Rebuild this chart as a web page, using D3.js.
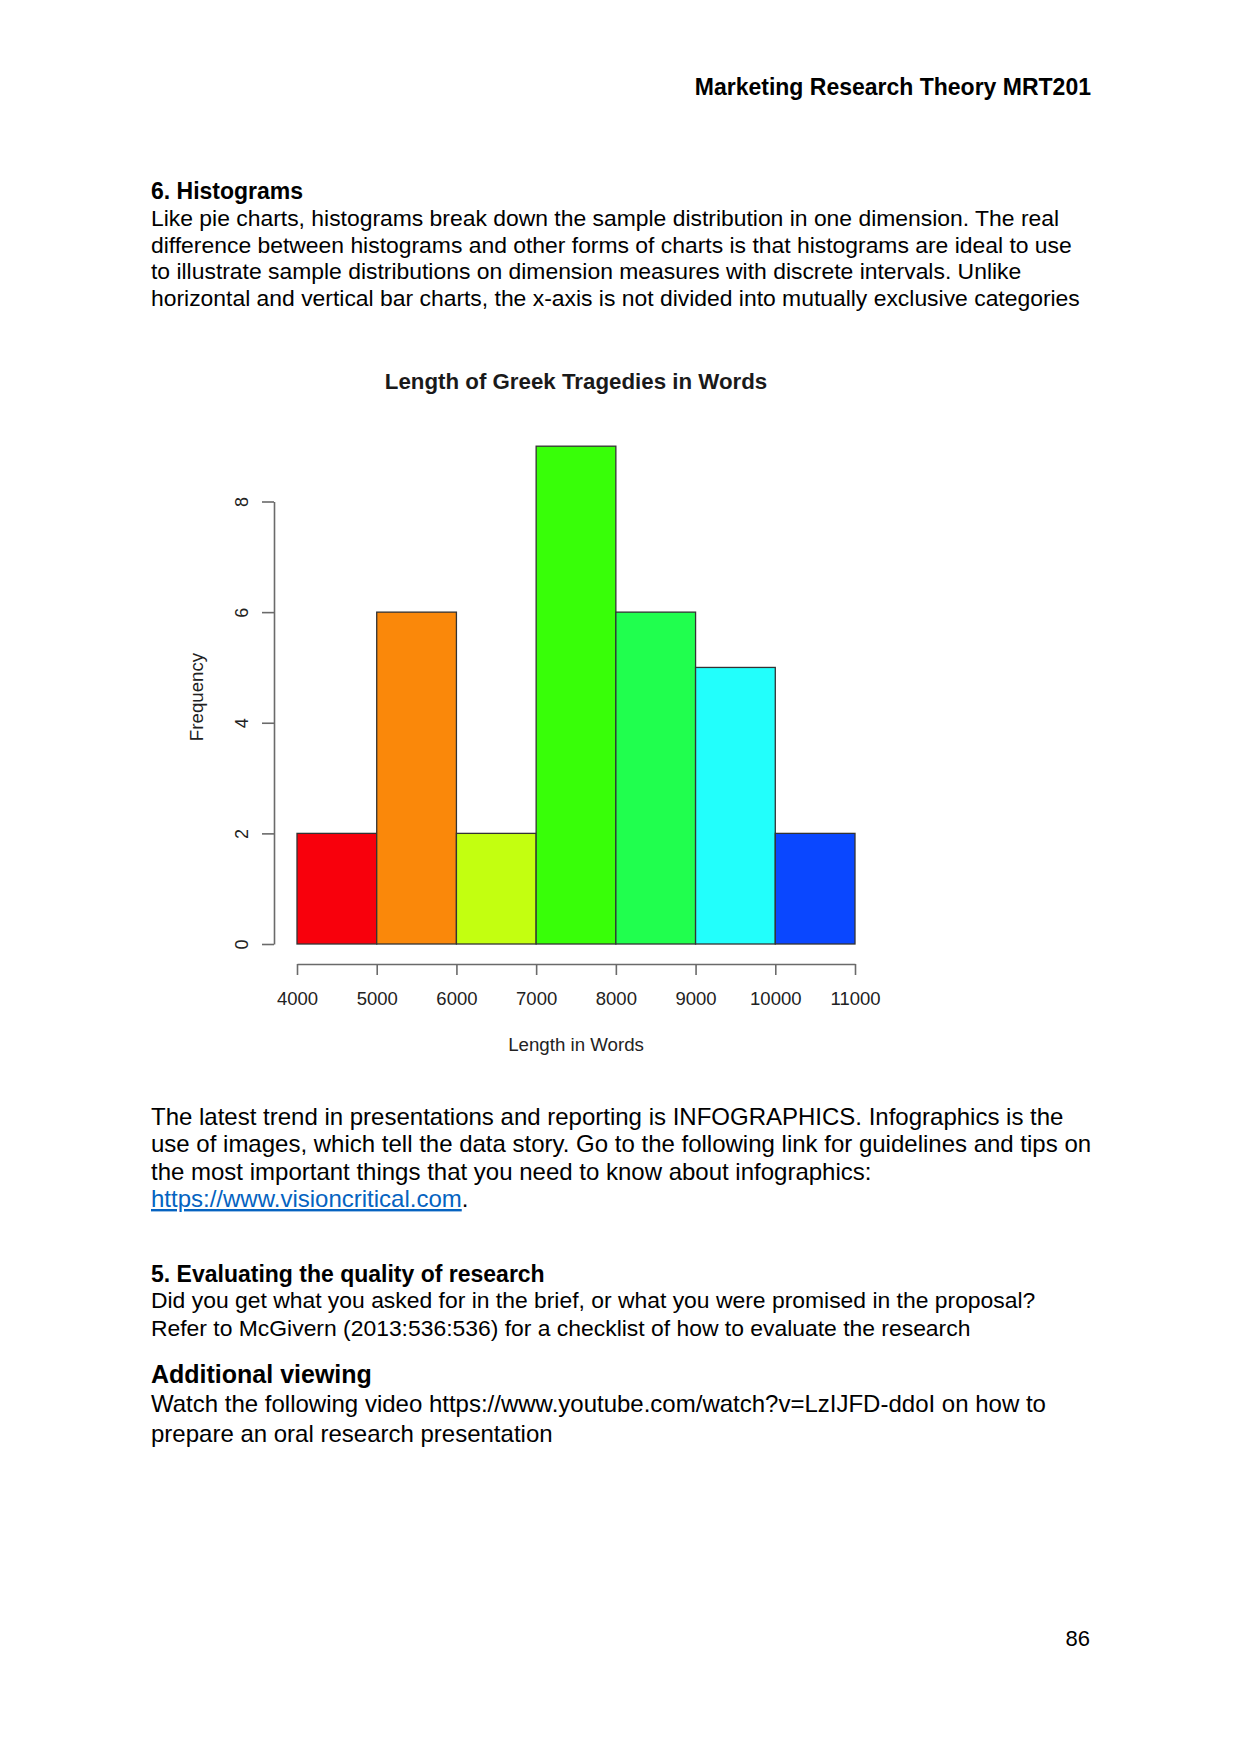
<!DOCTYPE html>
<html>
<head>
<meta charset="utf-8">
<script src="https://cdn.jsdelivr.net/npm/d3@7"></script>
<style>
  html, body { margin: 0; padding: 0; background: #fff; }
  svg text { font-family: "Liberation Sans", Arial, sans-serif; }
</style>
</head>
<body>
<svg id="page" width="1241" height="1754"></svg>
<script>
// histogram data
const binEdges = [4000, 5000, 6000, 7000, 8000, 9000, 10000, 11000];
const counts = [2, 6, 2, 9, 6, 5, 2];
const barColors = ["#F8000C", "#FA880A", "#C3FF10", "#38FF08", "#20FF4E", "#22FFFC", "#0A47FF"];
const yTicks = [0, 2, 4, 6, 8];
const xTicks = binEdges;

const chartTitle = "Length of Greek Tragedies in Words";
const xLabel = "Length in Words";
const yLabel = "Frequency";

// page text
const introLines = [
  "Like pie charts, histograms break down the sample distribution in one dimension. The real",
  "difference between histograms and other forms of charts is that histograms are ideal to use",
  "to illustrate sample distributions on dimension measures with discrete intervals. Unlike",
  "horizontal and vertical bar charts, the x-axis is not divided into mutually exclusive categories"
];
const trendLines = [
  "The latest trend in presentations and reporting is INFOGRAPHICS. Infographics is the",
  "use of images, which tell the data story. Go to the following link for guidelines and tips on",
  "the most important things that you need to know about infographics:"
];
const qualityLines = [
  "Did you get what you asked for in the brief, or what you were promised in the proposal?",
  "Refer to McGivern (2013:536:536) for a checklist of how to evaluate the research"
];
const viewingLines = [
  "Watch the following video https://www.youtube.com/watch?v=LzIJFD-ddoI on how to",
  "prepare an oral research presentation"
];

const svg = d3.select("#page");
svg.append("rect").attr("width", 1241).attr("height", 1754).attr("fill", "#fff");

const left = 151;
const addLine = (txt, y, size, weight) =>
  svg.append("text").attr("x", left).attr("y", y)
    .attr("font-size", size).attr("font-weight", weight || "normal")
    .attr("fill", "#000").text(txt);

// header
svg.append("text").attr("x", 1091).attr("y", 95).attr("text-anchor", "end")
  .attr("font-size", 23).attr("font-weight", "bold").text("Marketing Research Theory MRT201");

addLine("6. Histograms", 199, 23, "bold");
introLines.forEach((l, i) => addLine(l, 226 + i * 26.5, 22.9));

// ---- chart ----
const x = d3.scaleLinear().domain([4000, 11000]).range([297, 855]);
const y = d3.scaleLinear().domain([0, 8]).range([944, 501.5]);

const bins = counts.map((c, i) => ({ x0: binEdges[i], x1: binEdges[i + 1], n: c, color: barColors[i] }));

const g = svg.append("g");
g.selectAll("rect.bar")
  .data(bins)
  .enter()
  .append("rect")
  .attr("class", "bar")
  .attr("x", (d) => x(d.x0))
  .attr("y", (d) => y(d.n))
  .attr("width", (d) => x(d.x1) - x(d.x0))
  .attr("height", (d) => y(0) - y(d.n))
  .attr("fill", (d) => d.color)
  .attr("stroke", "#333")
  .attr("stroke-width", 1.3);

const axisCol = "#6a6a6a";

const xAxis = g.append("g").attr("transform", "translate(0,964)")
  .call(d3.axisBottom(x).tickValues(xTicks).tickFormat(d3.format("d"))
    .tickSize(11).tickSizeOuter(0).tickPadding(17));
xAxis.selectAll("path, line").attr("stroke", axisCol).attr("stroke-width", 1.6);
xAxis.selectAll("text").attr("font-size", 18.5).attr("fill", "#222")
  .attr("font-family", "'Liberation Sans', Arial, sans-serif");

const yAxis = g.append("g").attr("transform", "translate(274,0)")
  .call(d3.axisLeft(y).tickValues(yTicks).tickSize(12).tickSizeOuter(0));
yAxis.selectAll("path, line").attr("stroke", axisCol).attr("stroke-width", 1.6);
yAxis.selectAll("text")
  .attr("x", null).attr("dy", null)
  .attr("text-anchor", "middle")
  .attr("transform", "translate(-26,0) rotate(-90)")
  .attr("font-size", 18).attr("fill", "#222")
  .attr("font-family", "'Liberation Sans', Arial, sans-serif");

svg.append("text").attr("x", 576).attr("y", 389).attr("text-anchor", "middle")
  .attr("font-size", 22.3).attr("font-weight", "bold").attr("fill", "#1a1a1a").text(chartTitle);
svg.append("text").attr("x", 576).attr("y", 1051).attr("text-anchor", "middle")
  .attr("font-size", 18.7).attr("fill", "#222").text(xLabel);
svg.append("text").attr("transform", "translate(203,697) rotate(-90)").attr("text-anchor", "middle")
  .attr("font-size", 18.7).attr("fill", "#222").text(yLabel);

// ---- lower text ----
trendLines.forEach((l, i) => addLine(l, 1125 + i * 27.4, 24));
const link = svg.append("text").attr("x", left).attr("y", 1207).attr("font-size", 24);
link.append("tspan").attr("fill", "#0563C1").style("text-decoration", "underline")
  .text("https://www.visioncritical.com");
link.append("tspan").attr("fill", "#000").text(".");

addLine("5. Evaluating the quality of research", 1282, 23, "bold");
qualityLines.forEach((l, i) => addLine(l, 1308 + i * 27.5, 22.9));

addLine("Additional viewing", 1383, 25, "bold");
viewingLines.forEach((l, i) => addLine(l, 1412 + i * 29.5, 24));

// page number
svg.append("text").attr("x", 1090).attr("y", 1646).attr("text-anchor", "end")
  .attr("font-size", 22).attr("font-family", "Lato, 'Noto Sans', sans-serif").text("86");
</script>
</body>
</html>
